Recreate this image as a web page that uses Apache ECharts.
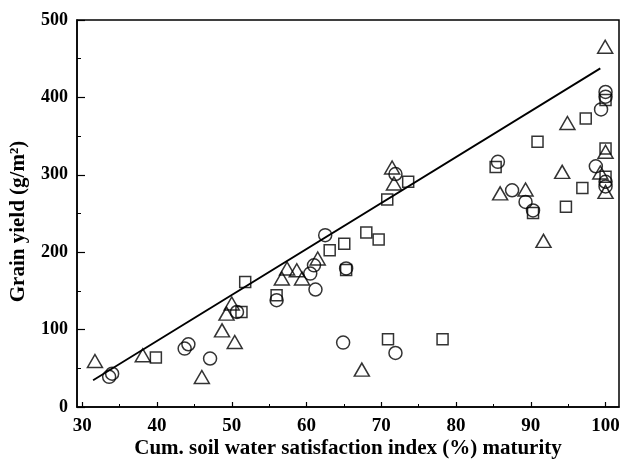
<!DOCTYPE html>
<html>
<head>
<meta charset="utf-8">
<script src="https://cdn.jsdelivr.net/npm/echarts@6/dist/echarts.min.js"></script>
<style>
  html, body { margin: 0; padding: 0; background: #fff; }
  #chart { width: 621px; height: 460px; }
</style>
</head>
<body>
<div id="chart"></div>
<script>
// 三组观测点（x：累积土壤水分满足指数 %，y：籽粒产量 g/m2）
const triangles = [
  [31.7, 59.5], [38.1, 66.8], [46.0, 38.8], [48.7, 99], [49.3, 120.7], [50.0, 133.7],
  [50.4, 84], [56.7, 166], [57.4, 179], [58.7, 176.7], [59.4, 166], [61.5, 191.8],
  [67.4, 48.3], [71.45, 309.5], [71.7, 288.8], [85.9, 276], [89.3, 281], [91.7, 214.6],
  [94.2, 303.8], [94.9, 367], [99.95, 465.4], [100, 329.7], [100, 278], [99.3, 303]
];
const circles = [
  [33.6, 39], [34.0, 43], [43.7, 75.5], [44.2, 81], [47.1, 62.6], [50.7, 122.8],
  [56.0, 138], [60.5, 172.4], [61.0, 183], [61.2, 151.8], [62.5, 222], [65.3, 179],
  [64.9, 83.2], [71.9, 69.8], [71.9, 301], [85.6, 316.7], [87.5, 280], [89.3, 265],
  [90.3, 254], [98.7, 311], [99.4, 384.5], [100, 401], [100, 407], [100, 291], [100, 285]
];
const squares = [
  [39.85, 63.8], [51.3, 122.8], [51.8, 161.6], [56.0, 144.4], [63.1, 202.6], [65.05, 211],
  [65.3, 177], [68.0, 225.5], [69.65, 216.4], [70.8, 268], [70.9, 87.5], [73.6, 291],
  [78.2, 87.5], [85.3, 310], [90.3, 250.8], [90.9, 342.6], [94.7, 258.6], [96.9, 283],
  [97.35, 372.8], [100, 396.5], [100, 334], [100, 297.4]
];
// 回归线两端
const fitLine = [[31.45, 34.5], [99.3, 437.5]];

// 刻度
const xLabels = [30, 40, 50, 60, 70, 80, 90, 100];
const xMinorTicks = [35, 45, 55, 65, 75, 85, 95];

const chart = echarts.init(document.getElementById('chart'), null, { renderer: 'canvas' });

const font = '"Liberation Serif", "DejaVu Serif", serif';
const marker = {
  color: 'rgba(0,0,0,0)',
  borderColor: '#000',
  borderWidth: 1.5
};

chart.setOption({
  animation: false,
  grid: {
    left: 77, right: 2, top: 20, bottom: 53,
    outerBoundsMode: 'none', containLabel: false,
    show: true, borderColor: '#000', borderWidth: 1.5
  },
  xAxis: [
    {
      type: 'value', min: 29.3, max: 101.8,
      name: 'Cum. soil water satisfaction index (%) maturity',
      nameLocation: 'middle', nameGap: 31, nameMoveOverlap: false,
      nameTextStyle: { fontFamily: font, fontWeight: 'bold', fontSize: 21, color: '#000' },
      axisLine: { show: true, lineStyle: { color: '#000', width: 1.5 } },
      axisTick: { show: true, inside: true, length: 5, customValues: xLabels, lineStyle: { color: '#000', width: 1.2 } },
      axisLabel: { customValues: xLabels, margin: 10, fontFamily: font, fontWeight: 'bold', fontSize: 19, color: '#000' },
      splitLine: { show: false }
    },
    {
      type: 'value', min: 29.3, max: 101.8, position: 'bottom',
      axisLine: { show: false },
      axisTick: { show: true, inside: true, length: 3, customValues: xMinorTicks, lineStyle: { color: '#000', width: 1 } },
      axisLabel: { show: false },
      splitLine: { show: false }
    }
  ],
  yAxis: {
    type: 'value', min: 0, max: 500, interval: 100,
    name: 'Grain yield (g/m²)',
    nameLocation: 'middle', nameGap: 48, nameMoveOverlap: false,
    nameTextStyle: { fontFamily: font, fontWeight: 'bold', fontSize: 21, color: '#000', padding: [0, 0, 0, -16] },
    axisLine: { show: true, lineStyle: { color: '#000', width: 1.5 } },
    axisTick: { show: true, inside: true, length: 8, lineStyle: { color: '#000', width: 1.2 } },
    minorTick: { show: true, splitNumber: 2, length: 4, lineStyle: { color: '#000', width: 1 } },
    axisLabel: { margin: 9, fontFamily: font, fontWeight: 'bold', fontSize: 18, color: '#000' },
    splitLine: { show: false }
  },
  series: [
    {
      type: 'line', data: fitLine, symbol: 'none',
      lineStyle: { color: '#000', width: 1.8 }, z: 1
    },
    {
      type: 'scatter', data: triangles, symbol: 'triangle', symbolSize: [15, 13],
      itemStyle: marker, z: 2
    },
    {
      type: 'scatter', data: circles, symbol: 'circle', symbolSize: 13,
      itemStyle: marker, z: 2
    },
    {
      type: 'scatter', data: squares, symbol: 'rect', symbolSize: 11,
      itemStyle: marker, z: 2
    }
  ]
});
</script>
</body>
</html>
